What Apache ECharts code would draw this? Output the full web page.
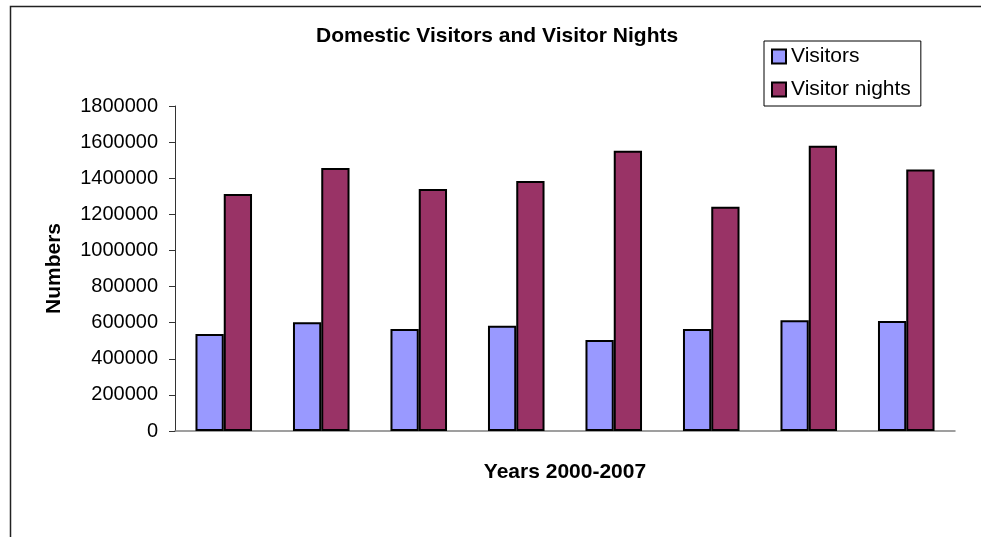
<!DOCTYPE html>
<html><head><meta charset="utf-8">
<script src="https://cdn.jsdelivr.net/npm/echarts@6/dist/echarts.min.js"></script>
<style>html,body{margin:0;padding:0;background:#fff}#c{width:981px;height:537px}</style>
</head><body><div id="c"></div>
<script>
const categories = ['2000','2001','2002','2003','2004','2005','2006','2007'];
const visitors = [537000, 603000, 565000, 583000, 504000, 565000, 613000, 609000];
const visitorNights = [1312000, 1456000, 1340000, 1384000, 1552000, 1242000, 1580000, 1449000];
const yTicks = {min: 0, max: 1800000, interval: 200000};

const chart = echarts.init(document.getElementById('c'));
const F = 'Liberation Sans, Arial, sans-serif';
chart.setOption({
  animation: false,
  backgroundColor: '#fff',
  graphic: [{
    type: 'rect', left: 8, top: 4, shape: {width: 1000, height: 600},
    style: {fill: 'none', stroke: '#222', lineWidth: 1.5}, silent: true
  }],
  title: {
    text: 'Domestic Visitors and Visitor Nights',
    left: 311, top: 21,
    textStyle: {fontFamily: F, fontSize: 21, fontWeight: 'bold', color: '#000'}
  },
  legend: {
    orient: 'vertical', left: 764, top: 41,
    padding: [5, 10, 6, 7],
    borderColor: '#000', borderWidth: 1,
    itemWidth: 14, itemHeight: 14, itemGap: 12,
    icon: 'rect',
    itemStyle: {borderColor: '#000', borderWidth: 2},
    textStyle: {fontFamily: F, fontSize: 21, color: '#000'},
    data: ['Visitors', 'Visitor nights']
  },
  grid: {left: 175, right: 26, top: 106, bottom: 106, containLabel: false},
  xAxis: {
    type: 'category', data: categories,
    name: 'Years 2000-2007', nameLocation: 'middle', nameGap: 31,
    nameTextStyle: {fontFamily: F, fontSize: 21, fontWeight: 'bold', color: '#000'},
    axisLine: {lineStyle: {color: '#808080', width: 1.5}},
    axisTick: {show: false}, axisLabel: {show: false}, splitLine: {show: false}
  },
  yAxis: {
    type: 'value', min: yTicks.min, max: yTicks.max, interval: yTicks.interval,
    name: 'Numbers', nameLocation: 'middle', nameGap: 110,
    nameTextStyle: {fontFamily: F, fontSize: 21, fontWeight: 'bold', color: '#000'},
    axisLine: {show: true, lineStyle: {color: '#333', width: 1}},
    axisTick: {show: true, length: 6, lineStyle: {color: '#333'}},
    axisLabel: {fontFamily: F, fontSize: 20, color: '#000', margin: 17, formatter: v => String(v)},
    splitLine: {show: false}
  },
  series: [
    {name: 'Visitors', type: 'bar', data: visitors, barGap: '0%', barCategoryGap: '42%',
     itemStyle: {color: '#9999FF', borderColor: '#000', borderWidth: 2}},
    {name: 'Visitor nights', type: 'bar', data: visitorNights, barGap: '0%', barCategoryGap: '42%',
     itemStyle: {color: '#993366', borderColor: '#000', borderWidth: 2}}
  ]
});
</script></body></html>
